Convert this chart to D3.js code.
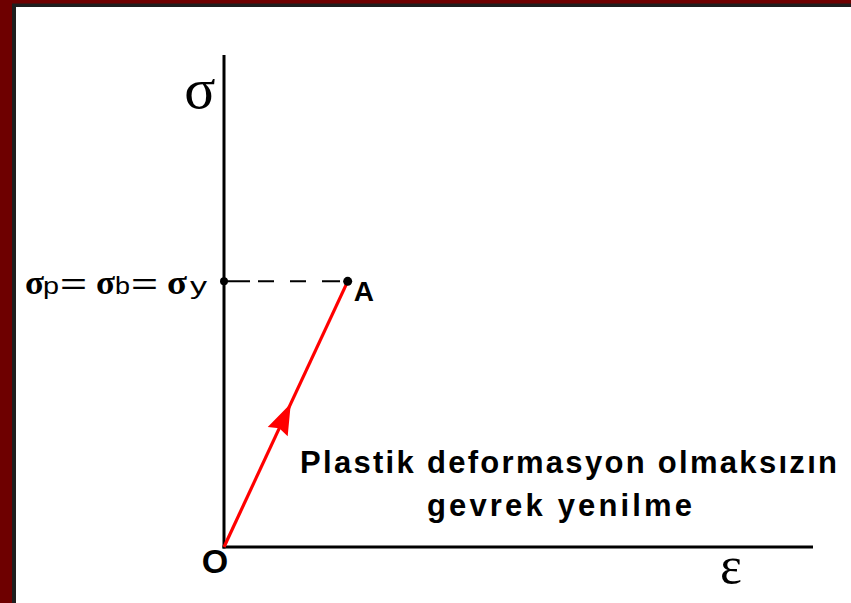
<!DOCTYPE html>
<html>
<head>
<meta charset="utf-8">
<script src="https://cdn.jsdelivr.net/npm/d3@7/dist/d3.min.js"></script>
<style>
  html, body { margin: 0; padding: 0; background: #ffffff; }
  svg { display: block; }
</style>
</head>
<body>
<svg id="chart" width="851" height="603"></svg>
<script>
// Brittle fracture: stress-strain path O -> A without plastic deformation
const pointNames = ["O", "A"];
const strainValues = [0, 2.1];   // ε
const stressValues = [0, 5.4];   // σ
const arrowAt = [0.54];          // arrow position along O–A (fraction)
const yLevelLabel = ["σ", "p", "=", "σ", "b", "=", "σ", "y"];
const axisTitles = ["σ", "ε"];
const noteLines = ["Plastik deformasyon olmaksızın", "gevrek yenilme"];

const W = 851, H = 603;
const svg = d3.select("#chart");

// frame bands on the top and left edges
svg.append("rect").attr("x", 0).attr("y", 0).attr("width", W).attr("height", H).attr("fill", "#ffffff");
svg.append("rect").attr("x", 0).attr("y", 0).attr("width", W).attr("height", 7).attr("fill", "#1e1e1e");
svg.append("rect").attr("x", 0).attr("y", 0).attr("width", 16).attr("height", H).attr("fill", "#1e1e1e");
svg.append("rect").attr("x", 0).attr("y", 0).attr("width", W).attr("height", 3.5).attr("fill", "#6e0000");
svg.append("rect").attr("x", 0).attr("y", 0).attr("width", 12).attr("height", H).attr("fill", "#6e0000");

const x = d3.scaleLinear().domain([0, 10]).range([224, 813]);
const y = d3.scaleLinear().domain([0, 10]).range([547, 55]);

// axes
svg.append("line")
  .attr("x1", x(0)).attr("y1", y(0) + 1.5).attr("x2", x(0)).attr("y2", y(10))
  .attr("stroke", "#000").attr("stroke-width", 3);
svg.append("line")
  .attr("x1", x(0) - 1.5).attr("y1", y(0)).attr("x2", x(10)).attr("y2", y(0))
  .attr("stroke", "#000").attr("stroke-width", 3);

const pts = pointNames.map((n, i) => ({ name: n, e: strainValues[i], s: stressValues[i] }));
const A = pts[1];

// dashed level line from the stress axis to A
svg.append("line")
  .attr("x1", x(0) + 2).attr("y1", y(A.s)).attr("x2", x(A.e)).attr("y2", y(A.s))
  .attr("stroke", "#000").attr("stroke-width", 2)
  .attr("stroke-dasharray", "24,8,16,16,16,16,18,10");

// red loading path O -> A
svg.append("line")
  .attr("x1", x(pts[0].e)).attr("y1", y(pts[0].s))
  .attr("x2", x(A.e)).attr("y2", y(A.s))
  .attr("stroke", "#ff0000").attr("stroke-width", 3.2);

// arrowhead on the path
const tx = x(0) + (x(A.e) - x(0)) * arrowAt[0];
const ty = y(0) + (y(A.s) - y(0)) * arrowAt[0];
const ang = Math.atan2(y(A.s) - y(0), x(A.e) - x(0));
const len = 31, half = 11;
const bx = tx - len * Math.cos(ang), by = ty - len * Math.sin(ang);
const nx = -Math.sin(ang), ny = Math.cos(ang);
svg.append("path")
  .attr("d", d3.line()([[tx, ty], [bx + nx * half, by + ny * half], [bx + len * 0.12 * Math.cos(ang), by + len * 0.12 * Math.sin(ang)], [bx - nx * half, by - ny * half]]) + "Z")
  .attr("fill", "#ff0000");

// dots at the stress level
svg.append("circle").attr("cx", x(0)).attr("cy", y(A.s)).attr("r", 4).attr("fill", "#000");
svg.append("circle").attr("cx", x(A.e)).attr("cy", y(A.s)).attr("r", 4.5).attr("fill", "#000");

// point labels
svg.append("text").attr("x", x(A.e) + 6).attr("y", y(A.s) + 20)
  .attr("font-family", "Liberation Sans, Arial, sans-serif").attr("font-weight", "bold")
  .attr("font-size", 28).text(A.name);
svg.append("text").attr("x", x(0) - 9).attr("y", y(0) + 26).attr("text-anchor", "middle")
  .attr("font-family", "Liberation Sans, Arial, sans-serif").attr("font-weight", "bold")
  .attr("font-size", 34).text(pts[0].name);

// axis titles
svg.append("text").attr("x", x(0) - 24).attr("y", y(0) - 439).attr("text-anchor", "middle")
  .attr("font-family", "Liberation Serif, Times New Roman, serif")
  .attr("font-size", 58).text(axisTitles[0]);
svg.append("text").attr("x", 731).attr("y", 583).attr("text-anchor", "middle")
  .attr("font-family", "Liberation Serif, Times New Roman, serif")
  .attr("font-size", 52).text(axisTitles[1]);

// stress level label σp=σb=σy, each piece stretched to its slot
const slots = [[25, 19], [43, 16], [60, 27], [96, 19], [115, 15], [131, 27], [167, 20], [190, 17]];
const lvl = svg.append("text").attr("y", y(A.s) + 13);
yLevelLabel.forEach((t, i) => {
  const sp = lvl.append("tspan").attr("x", slots[i][0]).text(t)
    .attr("textLength", slots[i][1]).attr("lengthAdjust", "spacingAndGlyphs");
  if (t === "σ") sp.attr("font-size", 34).attr("font-weight", "bold").attr("font-family", "Liberation Serif, serif");
  else if (t === "=") sp.attr("font-size", 30).attr("font-family", "Liberation Sans, sans-serif");
  else sp.attr("font-size", 23).attr("font-family", "Liberation Sans, sans-serif");
});

// note text
const noteSpan = [[300, 537], [427, 265]];
noteLines.forEach((t, i) => {
  svg.append("text")
    .attr("font-family", "Liberation Sans, Arial, sans-serif").attr("font-weight", "bold")
    .attr("font-size", 31)
    .attr("x", noteSpan[i][0]).attr("y", 473 + i * 43)
    .attr("textLength", noteSpan[i][1]).attr("lengthAdjust", "spacing")
    .text(t);
});
</script>
</body>
</html>
